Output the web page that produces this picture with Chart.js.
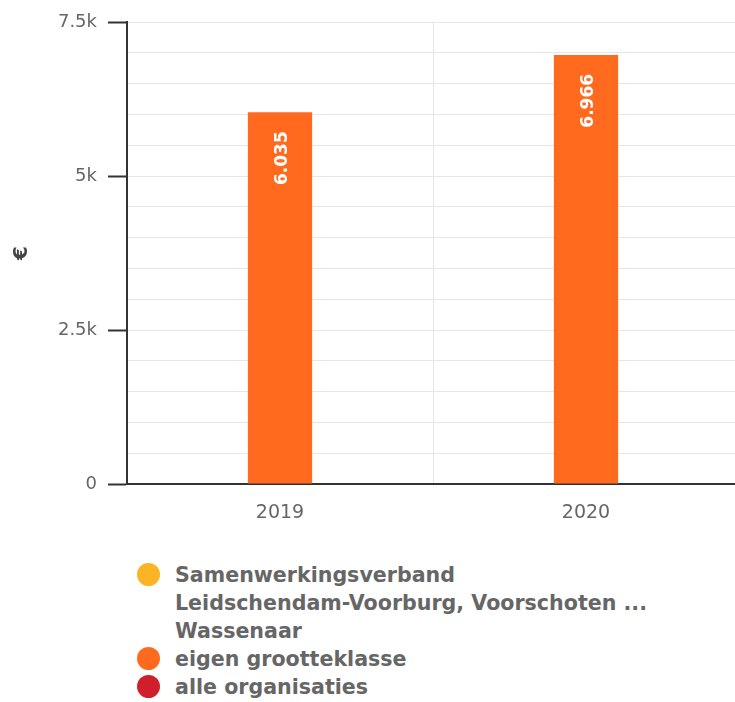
<!DOCTYPE html>
<html>
<head>
<meta charset="utf-8">
<script src="https://cdn.jsdelivr.net/npm/chart.js@4"></script>
<style>
  html, body { margin: 0; padding: 0; background: #fff; overflow: hidden; }
  #wrap { position: relative; width: 740px; height: 540px; }
  #legend { position: absolute; left: 137px; top: 561px; font: bold 20.6px "DejaVu Sans", sans-serif; color: #666; line-height: 28px; }
  .item { display: flex; align-items: flex-start; }
  .dot { width: 23px; height: 23px; border-radius: 50%; margin-top: 2px; margin-right: 15px; flex: none; }
</style>
</head>
<body>
<div id="wrap"><canvas id="chart"></canvas></div>
<div id="legend"></div>
<script>
const years = ['2019', '2020'];
const seriesNames = [
    ['Samenwerkingsverband', 'Leidschendam-Voorburg, Voorschoten ...', 'Wassenaar'],
    ['eigen grootteklasse'],
    ['alle organisaties'],
];
const seriesColors = ['#fbb424', '#ff6a1f', '#cf1f2a'];
const samenwerkingsverband = [null, null];
const eigenGrootteklasse = [6035, 6966];
const alleOrganisaties = [null, null];
const yLabelTicks = [0, 2500, 5000, 7500];

const fmt = (v) => String(v).replace(/\B(?=(\d{3})+(?!\d))/g, '.');
const FONT = '"DejaVu Sans", sans-serif';

// white rotated value inside each bar
const barLabels = {
    id: 'barLabels',
    afterDatasetsDraw(chart) {
        const ctx = chart.ctx;
        chart.data.datasets.forEach((ds, i) => {
            chart.getDatasetMeta(i).data.forEach((bar, j) => {
                const v = ds.data[j];
                if (v == null) return;
                ctx.save();
                ctx.translate(bar.x + 3, bar.y + 19);
                ctx.rotate(-Math.PI / 2);
                ctx.font = 'bold 17px ' + FONT;
                ctx.fillStyle = '#fff';
                ctx.textAlign = 'right';
                ctx.textBaseline = 'middle';
                ctx.fillText(fmt(v), 0, 0);
                ctx.restore();
            });
        });
    },
};

const allData = [samenwerkingsverband, eigenGrootteklasse, alleOrganisaties];
const datasets = allData.map((d, i) => ({
    label: seriesNames[i].join(' '),
    data: d,
    backgroundColor: seriesColors[i],
    borderWidth: 0,
}));

const chart = new Chart(document.getElementById('chart'), {
    type: 'bar',
    data: { labels: years, datasets },
    plugins: [barLabels],
    options: {
        responsive: true,
        maintainAspectRatio: false,
        animation: false,
        categoryPercentage: 0.63,
        barPercentage: 1,
        layout: { padding: { top: 22, right: 1, bottom: 0, left: 0 } },
        plugins: {
            legend: { display: false },
            tooltip: { enabled: false },
        },
        scales: {
            x: {
                grid: { color: '#e6e6e6', lineWidth: 1, drawTicks: false, offset: true },
                border: { color: '#333', width: 2 },
                ticks: { color: '#666', font: { family: FONT, size: 19 }, padding: 18 },
                afterFit: (s) => { s.height = 56; },
            },
            y: {
                min: 0,
                max: 7500,
                grid: {
                    color: '#e6e6e6',
                    lineWidth: 1,
                    tickLength: 19,
                    tickWidth: 2,
                    tickColor: (c) => (c.tick && yLabelTicks.includes(c.tick.value) ? '#333' : 'rgba(0,0,0,0)'),
                },
                border: { color: '#333', width: 2 },
                ticks: {
                    stepSize: 500,
                    autoSkip: false,
                    padding: 11,
                    color: '#666',
                    font: { family: FONT, size: 18 },
                    callback: (v) => (yLabelTicks.includes(v) ? (v === 0 ? '0' : v / 1000 + 'k') : ''),
                },
                title: {
                    display: true,
                    text: '€',
                    color: '#444',
                    font: { family: FONT, size: 20, weight: 'bold' },
                    padding: { top: 10, bottom: 0 },
                },
                afterFit: (s) => { s.width = 127; },
            },
        },
    },
});

// html legend, one item per line
const legend = document.getElementById('legend');
chart.data.datasets.forEach((ds, i) => {
    const item = document.createElement('div');
    item.className = 'item';
    const dot = document.createElement('span');
    dot.className = 'dot';
    dot.style.background = ds.backgroundColor;
    const txt = document.createElement('div');
    seriesNames[i].forEach((line) => {
        const l = document.createElement('div');
        l.textContent = line;
        txt.appendChild(l);
    });
    item.appendChild(dot);
    item.appendChild(txt);
    legend.appendChild(item);
});
</script>
</body>
</html>
